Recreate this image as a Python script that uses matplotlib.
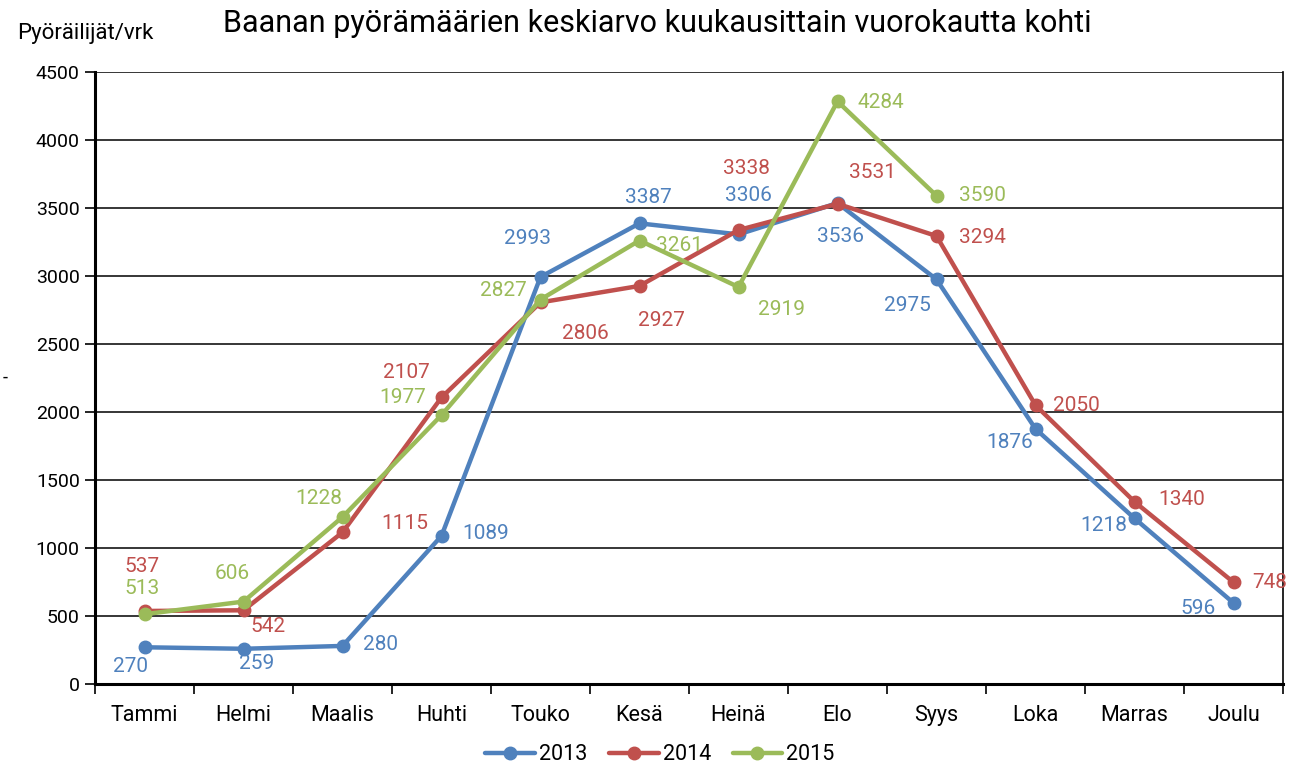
import matplotlib
matplotlib.use("Agg")
import matplotlib.pyplot as plt

plt.rcParams['font.family'] = ['Roboto', 'DejaVu Sans']

months = ['Tammi', 'Helmi', 'Maalis', 'Huhti', 'Touko', 'Kesä',
          'Heinä', 'Elo', 'Syys', 'Loka', 'Marras', 'Joulu']
v2013 = [270, 259, 280, 1089, 2993, 3387, 3306, 3536, 2975, 1876, 1218, 596]
v2014 = [537, 542, 1115, 2107, 2806, 2927, 3338, 3531, 3294, 2050, 1340, 748]
v2015 = [513, 606, 1228, 1977, 2827, 3261, 2919, 4284, 3590]
years = ['2013', '2014', '2015']
colors = ['#4F81BD', '#C0504D', '#9BBB59']

# label offsets in pixels (dx, dy up)
off2013 = [(-14, -19), (13, -15), (38, 1), (44, 2), (-13, 38), (9, 26), (10, 39),
           (3, -33), (-29, -26), (-26, -14), (-31, -7), (-35, -6)]
off2014 = [(-2, 44), (24, -16), (62, 9), (-35, 25), (45, -31), (22, -35), (8, 62),
           (35, 31), (46, -1), (41, 0), (47, 2), (36, 0)]
off2015 = [(-2, 26), (-11, 28), (-24, 18), (-39, 18), (-37, 9), (40, -5), (43, -22),
           (43, -1), (46, 0)]

fig = plt.figure(figsize=(13.04, 7.66), dpi=100)
ax = fig.add_axes([95/1304, 1-684/766, (1283-95)/1304, (684-72)/766])

series = [v2013, v2014, v2015]
offsets = [off2013, off2014, off2015]
for vals, offs, col, yr in zip(series, offsets, colors, years):
    xs = list(range(len(vals)))
    ax.plot(xs, vals, color=col, lw=3.2, marker='o', ms=9, label=yr,
            solid_capstyle='round')
    for x, v, (dx, dy) in zip(xs, vals, offs):
        ax.annotate(str(v), (x, v), xytext=(dx, dy), textcoords='offset pixels',
                    ha='center', va='center', color=col, fontsize=15,
                    annotation_clip=False)

ax.set_xlim(-0.5, 11.5)
ax.set_ylim(0, 4500)
ax.set_yticks(range(0, 4501, 500))
ax.yaxis.grid(True, color='black', lw=1.1)
ax.set_axisbelow(True)
ax.set_xticks([i - 0.5 for i in range(13)])
ax.set_xticklabels([])
ax.set_xticks(range(12), minor=True)
ax.set_xticklabels(months, minor=True, fontsize=15.5)
ax.tick_params(axis='x', which='major', length=7, width=1.2, direction='out')
ax.tick_params(axis='x', which='minor', length=0, pad=15)
ax.tick_params(axis='y', length=7, width=1.2, labelsize=14, pad=4)
ax.spines['top'].set_visible(False)
for s in ['left', 'bottom']:
    ax.spines[s].set_linewidth(2.2)
ax.spines['right'].set_linewidth(1.2)

fig.text(657/1304, 1-24/766, 'Baanan pyörämäärien keskiarvo kuukausittain vuorokautta kohti',
         ha='center', va='center', fontsize=22)
fig.text(17/1304, 1-34/766, 'Pyöräilijät/vrk', ha='left', va='center', fontsize=16)
fig.text(3/1304, 1-378/766, '-', ha='left', va='center', fontsize=13)

fig.legend(loc='center', bbox_to_anchor=(660/1304, 1-755/766), ncol=3, frameon=False,
           fontsize=15.5, handlelength=2.3, columnspacing=1.0, handletextpad=0.2)

fig.savefig('out.png', dpi=100)
